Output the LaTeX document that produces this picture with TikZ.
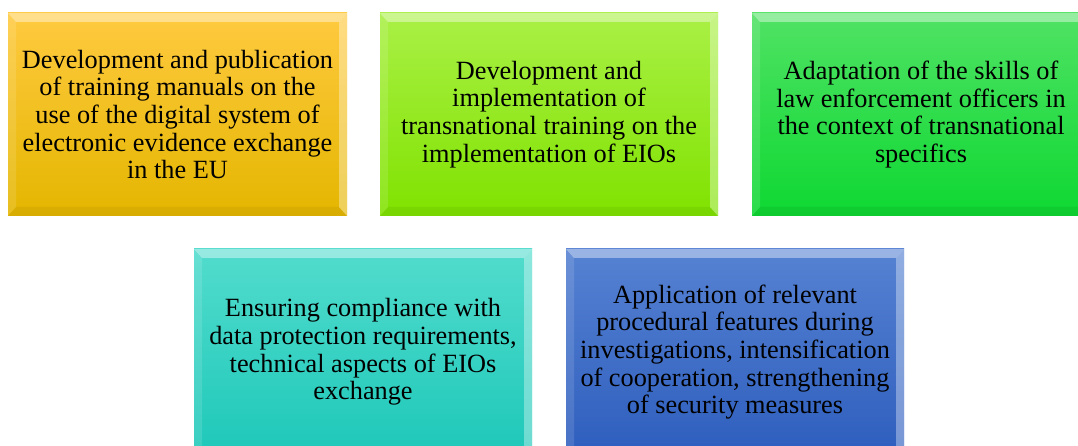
\documentclass[tikz,border=0pt]{standalone}
\usepackage{fontspec}
\setmainfont{Liberation Serif}
\begin{document}
\begin{tikzpicture}[x=1pt,y=-1pt,
  bev/.style={path picture={
    \fill[white,opacity=.4] (path picture bounding box.north west) -- (path picture bounding box.north east) -- ([shift={(-8pt,-9pt)}]path picture bounding box.north east) -- ([shift={(8pt,-9pt)}]path picture bounding box.north west) -- cycle;
    \fill[white,opacity=.12] (path picture bounding box.north west) -- ([shift={(8pt,-9pt)}]path picture bounding box.north west) -- ([shift={(8pt,9pt)}]path picture bounding box.south west) -- (path picture bounding box.south west) -- cycle;
    \fill[white,opacity=.35] (path picture bounding box.north east) -- ([shift={(-8pt,-9pt)}]path picture bounding box.north east) -- ([shift={(-8pt,9pt)}]path picture bounding box.south east) -- (path picture bounding box.south east) -- cycle;
    \fill[black,opacity=.05] (path picture bounding box.south west) -- ([shift={(8pt,9pt)}]path picture bounding box.south west) -- ([shift={(-8pt,9pt)}]path picture bounding box.south east) -- (path picture bounding box.south east) -- cycle;
  }},
  box/.style={bev,inner sep=0pt,align=center,font=\fontsize{26.3}{27.7}\selectfont,text=black},
  yel/.style={box,top color={rgb,255:red,255;green,202;blue,64},bottom color={rgb,255:red,228;green,182;blue,0}},
  lim/.style={box,top color={rgb,255:red,170;green,240;blue,70},bottom color={rgb,255:red,128;green,226;blue,0}},
  grn/.style={box,top color={rgb,255:red,80;green,226;blue,100},bottom color={rgb,255:red,14;green,216;blue,50}},
  tea/.style={box,top color={rgb,255:red,82;green,220;blue,205},bottom color={rgb,255:red,30;green,200;blue,185}},
  blu/.style={box,top color={rgb,255:red,86;green,130;blue,210},bottom color={rgb,255:red,46;green,94;blue,190}}]
\useasboundingbox (0,0) rectangle (1078,446);
\node[yel,minimum width=339pt,minimum height=203pt] (b1) at (177.5,114.5) {Development and publication\\of training manuals on the\\use of the digital system of\\electronic evidence exchange\\in the EU};
\node[lim,minimum width=338pt,minimum height=203pt] (b2) at (549,114.5) {Development and\\implementation of\\transnational training on the\\implementation of EIOs};
\node[grn,minimum width=338pt,minimum height=203pt] (b3) at (921,114.5) {Adaptation of the skills of\\law enforcement officers in\\the context of transnational\\specifics};
\node[tea,minimum width=338pt,minimum height=206pt] (b4) at (363,352) {Ensuring compliance with\\data protection requirements,\\technical aspects of EIOs\\exchange};
\node[blu,minimum width=338pt,minimum height=206pt] (b5) at (735,352) {Application of relevant\\procedural features during\\investigations, intensification\\of cooperation, strengthening\\of security measures};
\end{tikzpicture}
\end{document}
